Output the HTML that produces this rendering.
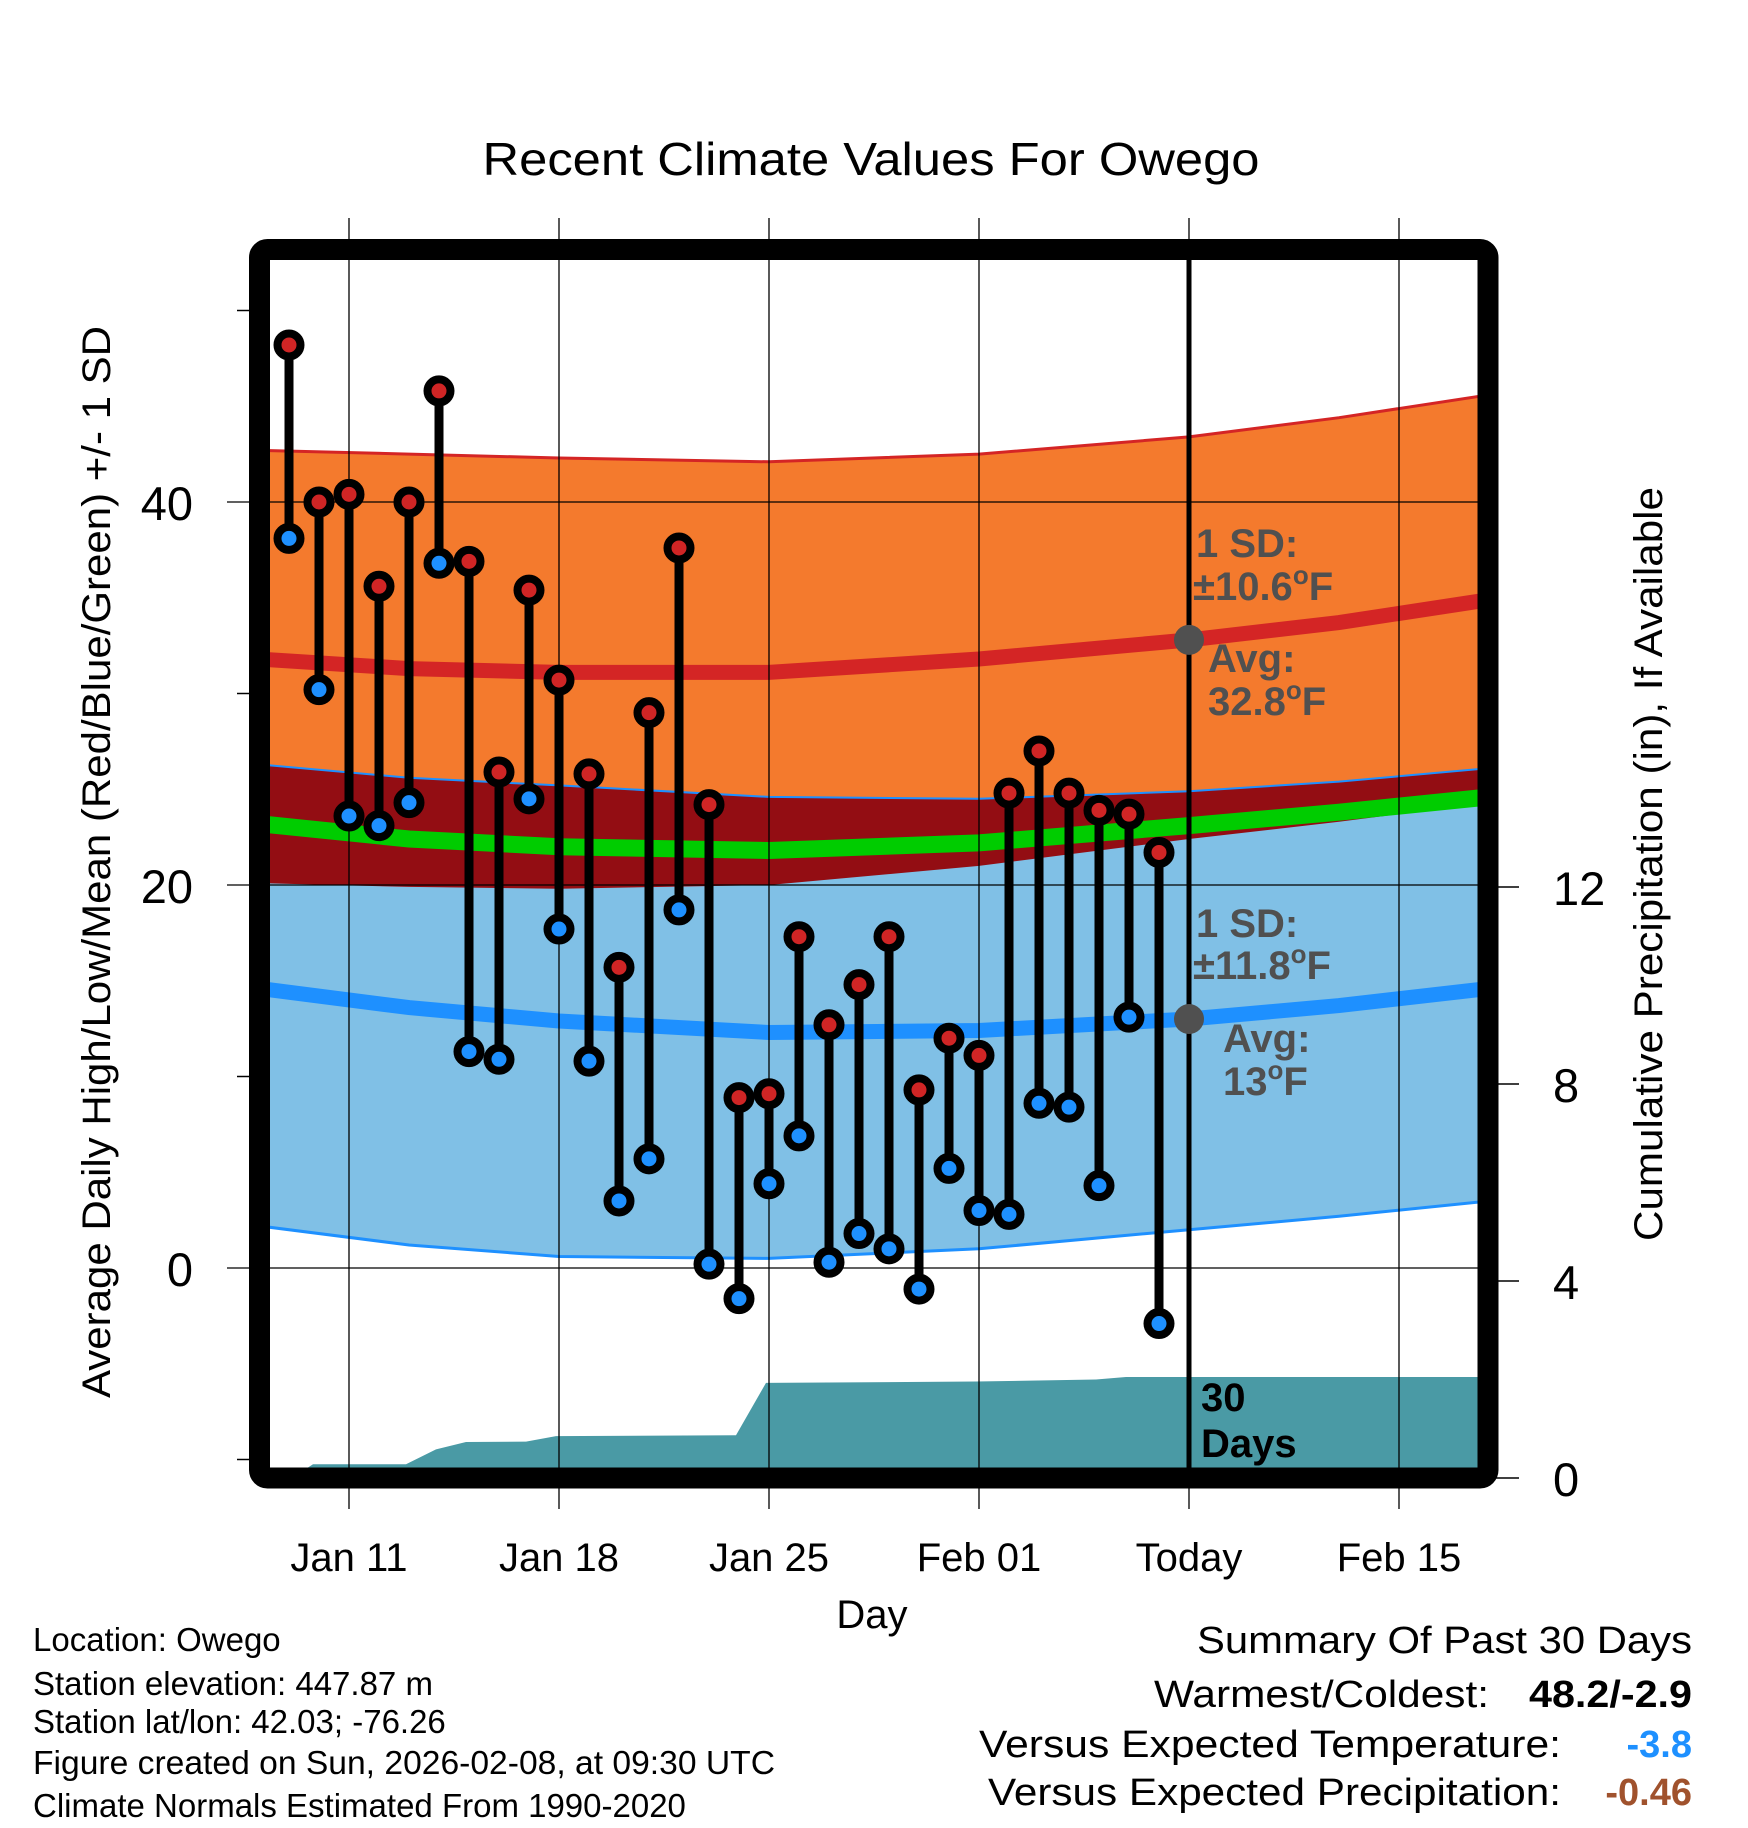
<!DOCTYPE html>
<html><head><meta charset="utf-8"><title>Recent Climate Values For Owego</title>
<style>html,body{margin:0;padding:0;background:#fff}svg{display:block;font-family:"Liberation Sans",sans-serif}</style>
</head><body>
<svg id="chart" width="1748" height="1828" viewBox="0 0 1748 1828" xmlns="http://www.w3.org/2000/svg">
<defs><clipPath id="plotclip"><rect x="270" y="260" width="1208" height="1208"/></clipPath></defs>
<g id="fills" clip-path="url(#plotclip)"></g>
<g id="grid"></g>
<g id="marks" clip-path="url(#plotclip)"></g>
<rect x="259.5" y="249.5" width="1228.5" height="1228.5" rx="8" fill="none" stroke="#000" stroke-width="21"/>
<g id="labels"></g>
<text x="871" y="175" text-anchor="middle" font-size="46" textLength="777" lengthAdjust="spacingAndGlyphs">Recent Climate Values For Owego</text>
<text x="872" y="1628" text-anchor="middle" font-size="40">Day</text>
<text transform="translate(110,862) rotate(-90)" text-anchor="middle" font-size="40" textLength="1072" lengthAdjust="spacingAndGlyphs">Average Daily High/Low/Mean (Red/Blue/Green) +/- 1 SD</text>
<text transform="translate(1662,864) rotate(-90)" text-anchor="middle" font-size="40" textLength="754" lengthAdjust="spacingAndGlyphs">Cumulative Precipitation (in), If Available</text>
<g font-size="40" font-weight="bold" fill="#505050">
<text x="1196" y="557">1 SD:</text>
<text x="1193" y="600">±10.6<tspan font-size="26" dy="-16">o</tspan><tspan dy="16">F</tspan></text>
<text x="1208" y="672">Avg:</text>
<text x="1208" y="715">32.8<tspan font-size="26" dy="-16">o</tspan><tspan dy="16">F</tspan></text>
<text x="1196" y="937">1 SD:</text>
<text x="1193" y="979">±11.8<tspan font-size="26" dy="-16">o</tspan><tspan dy="16">F</tspan></text>
<text x="1223" y="1052">Avg:</text>
<text x="1223" y="1095">13<tspan font-size="26" dy="-16">o</tspan><tspan dy="16">F</tspan></text>
</g>
<g font-size="40" font-weight="bold" fill="#000">
<text x="1201" y="1411">30</text>
<text x="1201" y="1457">Days</text>
</g>
<g font-size="33" fill="#000">
<text x="33" y="1651">Location: Owego</text>
<text x="33" y="1695">Station elevation: 447.87 m</text>
<text x="33" y="1733">Station lat/lon: 42.03; -76.26</text>
<text x="33" y="1774" textLength="742" lengthAdjust="spacingAndGlyphs">Figure created on Sun, 2026-02-08, at 09:30 UTC</text>
<text x="33" y="1817">Climate Normals Estimated From 1990-2020</text>
</g>
<g font-size="38" fill="#000">
<text x="1692" y="1653" text-anchor="end" textLength="495" lengthAdjust="spacingAndGlyphs">Summary Of Past 30 Days</text>
<text x="1489" y="1707" text-anchor="end" textLength="335" lengthAdjust="spacingAndGlyphs">Warmest/Coldest:</text>
<text x="1692" y="1707" text-anchor="end" font-weight="bold" textLength="163" lengthAdjust="spacingAndGlyphs">48.2/-2.9</text>
<text x="1561" y="1757" text-anchor="end" textLength="582" lengthAdjust="spacingAndGlyphs">Versus Expected Temperature:</text>
<text x="1692" y="1757" text-anchor="end" font-weight="bold" fill="#1e90ff">-3.8</text>
<text x="1561" y="1805" text-anchor="end" textLength="573" lengthAdjust="spacingAndGlyphs">Versus Expected Precipitation:</text>
<text x="1692" y="1805" text-anchor="end" font-weight="bold" fill="#a0522d">-0.46</text>
</g>
</svg>
<script>
// days relative to Jan 11 (0)
const obsDays = [-2,-1,0,1,2,3,4,5,6,7,8,9,10,11,12,13,14,15,16,17,18,19,20,21,22,23,24,25,26,27];
const highs = [48.2,40.0,40.4,35.6,40.0,45.8,36.9,25.9,35.4,30.7,25.8,15.7,29.0,37.6,24.2,8.9,9.1,17.3,12.7,14.8,17.3,9.3,12.0,11.1,24.8,27.0,24.8,23.9,23.7,21.7];
const lows = [38.1,30.2,23.6,23.1,24.3,36.8,11.3,10.9,24.5,17.7,10.8,3.5,5.7,18.7,0.2,-1.6,4.4,6.9,0.3,1.8,1.0,-1.1,5.2,3.0,2.8,8.6,8.4,4.3,13.1,-2.9];
const normDays = [-3,2,7,14,21,28,33,38];
const highUpper = [42.7,42.5,42.3,42.1,42.5,43.4,44.4,45.6];
const highMean = [31.8,31.3,31.1,31.1,31.8,32.8,33.7,34.9];
const highLower = [20.1,19.9,19.8,20.0,21.0,22.4,23.3,24.3];
const meanLine = [23.2,22.4,22.0,21.8,22.2,23.1,23.8,24.6];
const lowUpper = [26.3,25.6,25.2,24.6,24.5,24.9,25.4,26.1];
const lowMean = [14.6,13.6,12.9,12.3,12.4,13.0,13.7,14.6];
const lowLower = [2.2,1.2,0.6,0.5,1.0,2.0,2.7,3.5];
const precipDays = [-1.9,-1.2,1.9,2.9,3.9,5.9,6.9,12.9,13.9,20.9,24.9,25.9,38];
const precipVals = [0,0.28,0.28,0.58,0.73,0.74,0.85,0.87,1.93,1.96,2.0,2.05,2.05];
const xTickDays = [0,7,14,21,28,35];
const xTickLabels = ["Jan 11","Jan 18","Jan 25","Feb 01","Today","Feb 15"];
const yTicks = [0,20,40];
const yMinorTicks = [-10,10,30,50];
const pTicks = [0,4,8,12];

const NS="http://www.w3.org/2000/svg";
const X = d => 349 + 30*d;
const Y = t => 1268 - 19.15*t;
const P = p => 1478 - 49.25*p;
function mk(tag, attrs, parent){const e=document.createElementNS(NS,tag);for(const k in attrs)e.setAttribute(k,attrs[k]);parent.appendChild(e);return e;}
function linePts(days, vals, f){return days.map((d,i)=>X(d).toFixed(1)+","+f(vals[i]).toFixed(1));}
function bandPath(days, top, bot){const a=linePts(days,top,Y), b=linePts(days,bot,Y).reverse();return "M"+a.join("L")+"L"+b.join("L")+"Z";}
const fills=document.getElementById('fills'), grid=document.getElementById('grid'), marks=document.getElementById('marks'), labels=document.getElementById('labels');

let e;
e=mk('path',{d:bandPath(normDays,highUpper,highLower),fill:'#f47a2d'},fills);


e=mk('path',{d:bandPath(normDays,lowUpper,lowLower),fill:'#80c0e6'},fills);


e=mk('path',{d:bandPath(normDays,lowUpper,highLower),fill:'#930d13'},fills);


const lines=[[highUpper,'#d42525',3,'high-upper-line'],[lowUpper,'#1e90ff',2,'low-upper-line'],[lowLower,'#1e90ff',3,'low-lower-line'],[highMean,'#d42525',15,'high-mean-line'],[lowMean,'#1e90ff',15,'low-mean-line'],[meanLine,'#00cc00',17,'mean-line']];
lines.forEach(l=>{
  e=mk('polyline',{points:linePts(normDays,l[0],Y).join(' '),fill:'none',stroke:l[1],'stroke-width':l[2]},fills);
  
  
});
const pa=linePts(precipDays,precipVals,P);
e=mk('path',{d:"M"+X(precipDays[0])+","+P(0)+"L"+pa.join("L")+"L"+X(precipDays[precipDays.length-1])+","+P(0)+"Z",fill:'#4a9aa5'},fills);



// grid
xTickDays.forEach((d,i)=>{
  e=mk('line',{x1:X(d),x2:X(d),y1:218,y2:1509,stroke:'#000','stroke-width':1.3},grid);
  
  
  e=mk('text',{x:X(d),y:1571,'text-anchor':'middle','font-size':40},labels);
  e.textContent=xTickLabels[i];
  
  
});
yTicks.forEach(t=>{
  e=mk('line',{x1:227,x2:1478,y1:Y(t),y2:Y(t),stroke:'#000','stroke-width':1.3},grid);
  
  
  e=mk('text',{x:193,y:Y(t)+18,'text-anchor':'end','font-size':47},labels);
  e.textContent=String(t);
  
  
});
yMinorTicks.forEach(t=>{
  e=mk('line',{x1:237,x2:252,y1:Y(t),y2:Y(t),stroke:'#000','stroke-width':1.5},grid);
  
  
});
pTicks.forEach(p=>{
  e=mk('line',{x1:1490,x2:1519,y1:P(p),y2:P(p),stroke:'#000','stroke-width':1.5},grid);
  
  
  e=mk('text',{x:1553,y:P(p)+18,'font-size':47},labels);
  e.textContent=String(p);
  
  
});

// today line and avg dots
e=mk('line',{x1:X(28),x2:X(28),y1:260,y2:1470,stroke:'#000','stroke-width':5},marks);


e=mk('circle',{cx:X(28),cy:Y(highMean[5]),r:15,fill:'#505050'},marks);


e=mk('circle',{cx:X(28),cy:Y(lowMean[5]),r:15,fill:'#505050'},marks);



obsDays.forEach((d,i)=>{
  e=mk('line',{x1:X(d),x2:X(d),y1:Y(highs[i]),y2:Y(lows[i]),stroke:'#000','stroke-width':9},marks);
  
  
});
obsDays.forEach((d,i)=>{
  e=mk('circle',{cx:X(d),cy:Y(lows[i]),r:11.5,fill:'#1e90ff',stroke:'#000','stroke-width':8},marks);
  
  
  e=mk('circle',{cx:X(d),cy:Y(highs[i]),r:11.5,fill:'#d02525',stroke:'#000','stroke-width':8},marks);
  
  
});
</script>
</body></html>
